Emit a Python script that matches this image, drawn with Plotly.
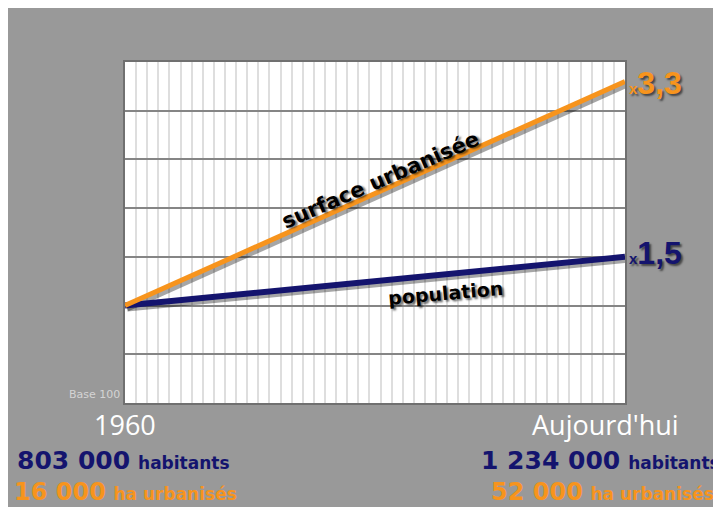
import plotly.graph_objects as go

# data
periods = ["1960", "Aujourd'hui"]
x_pos = [0, 45]
population_index = [100, 150]
surface_index = [100, 330]
population_count = ["803 000", "1 234 000"]
surface_ha = ["16 000", "52 000"]
factors = ["x1,5", "x3,3"]

GRAY = "#999999"
ORANGE = "#f7941d"
NAVY = "#14146e"

# the page adds an 8px body margin, which gives the white strip top and left
OFF = 8
W, H = 721 - OFF, 507 - OFF
L, T = 125 - OFF, 62 - OFF
PW, PH = 500, 341
R, B = W - L - PW, H - T - PH


def px_x(v):
    return (v - OFF - L) / PW


def px_y(v):
    return (T + PH - (v - OFF)) / PH


fig = go.Figure()

# drop shadows under the lines
for ys in (surface_index, population_index):
    fig.add_trace(go.Scatter(
        x=[v + 0.2 for v in x_pos], y=[v - 3 for v in ys],
        mode="lines", line=dict(color="rgba(0,0,0,0.35)", width=6),
        hoverinfo="skip", showlegend=False
    ))

fig.add_trace(go.Scatter(
    x=x_pos, y=population_index, mode="lines",
    line=dict(color=NAVY, width=6), name="population", showlegend=False
))
fig.add_trace(go.Scatter(
    x=x_pos, y=surface_index, mode="lines",
    line=dict(color=ORANGE, width=5), name="surface urbanisée", showlegend=False
))

shadow = "2px 2px 2px rgba(0,0,0,0.55)"

annotations = [
    dict(x=23, y=229, xref="x", yref="y", text="<b>surface urbanisée</b>",
         textangle=-23.5, showarrow=False,
         font=dict(family="DejaVu Sans", size=21, color="black", shadow=shadow)),
    dict(x=28.8, y=113, xref="x", yref="y", text="<b>population</b>",
         textangle=-5, showarrow=False,
         font=dict(family="DejaVu Sans", size=19, color="black", shadow=shadow)),
    dict(x=x_pos[1], y=surface_index[1], xref="x", yref="y", xanchor="left",
         yanchor="middle", xshift=2, yshift=-2,
         text="<span style='font-size:15px'>x</span>" + factors[1][1:],
         showarrow=False,
         font=dict(family="Liberation Sans", size=32, color=ORANGE,
                   weight="bold", shadow=shadow)),
    dict(x=x_pos[1], y=population_index[1], xref="x", yref="y", xanchor="left",
         yanchor="middle", xshift=2, yshift=4,
         text="<span style='font-size:15px'>x</span>" + factors[0][1:],
         showarrow=False,
         font=dict(family="Liberation Sans", size=32, color=NAVY,
                   weight="bold", shadow=shadow)),
    dict(x=px_x(122), y=px_y(394), xref="paper", yref="paper",
         xanchor="right", yanchor="middle",
         text="Base 100", showarrow=False,
         font=dict(family="DejaVu Sans", size=11, color="#d4d4d4")),
    dict(x=x_pos[0], y=px_y(424), xref="x", yref="paper", text=periods[0],
         xanchor="center", yanchor="middle", showarrow=False,
         font=dict(family="Open Sans", size=27, color="white")),
    dict(x=x_pos[1], y=px_y(424), xref="x", yref="paper", text=periods[1],
         xanchor="center", yanchor="middle", xshift=-20, showarrow=False,
         font=dict(family="Open Sans", size=27, color="white")),
    dict(x=px_x(15), y=px_y(460), xref="paper", yref="paper",
         xanchor="left", yanchor="middle",
         text="<b>" + population_count[0] + "</b> <b><span style='font-size:17px'>habitants</span></b>",
         showarrow=False, font=dict(family="DejaVu Sans", size=25, color=NAVY)),
    dict(x=px_x(12), y=px_y(492), xref="paper", yref="paper",
         xanchor="left", yanchor="middle",
         text="<b>" + surface_ha[0] + "</b> <b><span style='font-size:17px'>ha urbanisés</span></b>",
         showarrow=False, font=dict(family="DejaVu Sans", size=24, color=ORANGE)),
    dict(x=px_x(722), y=px_y(460), xref="paper", yref="paper",
         xanchor="right", yanchor="middle",
         text="<b>" + population_count[1] + "</b> <b><span style='font-size:17px'>habitants</span></b>",
         showarrow=False, font=dict(family="DejaVu Sans", size=25, color=NAVY)),
    dict(x=px_x(716), y=px_y(492), xref="paper", yref="paper",
         xanchor="right", yanchor="middle",
         text="<b>" + surface_ha[1] + "</b> <b><span style='font-size:17px'>ha urbanisés</span></b>",
         showarrow=False, font=dict(family="DejaVu Sans", size=24, color=ORANGE)),
]

fig.update_layout(
    width=W, height=H,
    margin=dict(l=L, r=R, t=T, b=B),
    paper_bgcolor=GRAY,
    plot_bgcolor="white",
    annotations=annotations,
    showlegend=False,
)

fig.update_xaxes(
    range=[0, 45], dtick=1, showticklabels=False, ticks="",
    showgrid=True, gridcolor="#dedede", gridwidth=2,
    showline=True, linecolor="#707070", linewidth=2, mirror=True,
    zeroline=False, fixedrange=True
)
fig.update_yaxes(
    range=[0, 350], dtick=50, showticklabels=False, ticks="",
    showgrid=True, gridcolor="#858585", gridwidth=2,
    showline=True, linecolor="#707070", linewidth=2, mirror=True,
    zeroline=False, fixedrange=True
)

# no scrollbars, so the grey panel runs to the right and bottom edges
fig.write_html(
    "out.html",
    post_script=(
        "document.documentElement.style.overflow='hidden';"
        "document.body.style.overflow='hidden';"
    ),
)
